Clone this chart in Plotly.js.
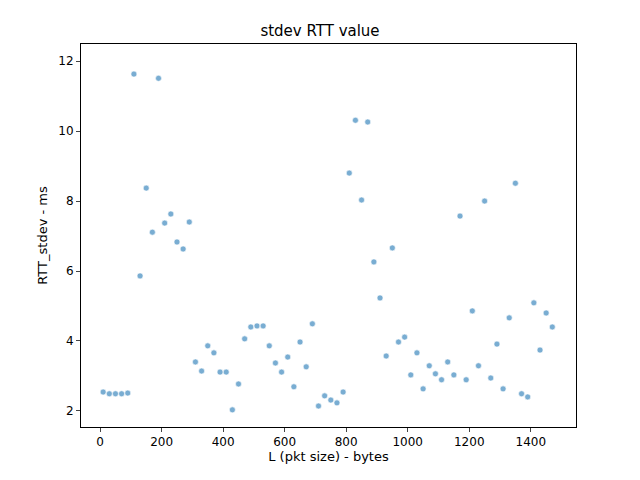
<!DOCTYPE html>
<html>
<head>
<meta charset="utf-8">
<script src="https://cdn.plot.ly/plotly-3.0.1.min.js"></script>
<style>body{margin:0}</style>
</head>
<body>
<div id="plot" style="width:640px;height:480px"></div>
<script>
"use strict"

// packet sizes: 10, 30, ... 1470 bytes
const pktSize = [10,30,50,70,90,110,130,150,170,190,210,230,250,270,290,
  310,330,350,370,390,410,430,450,470,490,510,530,550,570,590,610,630,650,670,690,
  710,730,750,770,790,810,830,850,870,890,910,930,950,970,990,1010,1030,1050,1070,1090,
  1110,1130,1150,1170,1190,1210,1230,1250,1270,1290,1310,1330,1350,1370,1390,1410,1430,1450,1470]

const rttStdev = [2.54,2.49,2.49,2.49,2.51,11.63,5.86,8.37,7.11,11.51,7.37,7.63,6.83,6.63,7.4,
  3.40,3.14,3.86,3.66,3.11,3.11,2.03,2.77,4.06,4.40,4.43,4.43,3.86,3.37,3.11,3.54,2.69,3.97,3.26,4.49,
  2.14,2.43,2.31,2.23,2.54,8.8,10.31,8.03,10.26,6.26,5.23,3.57,6.66,3.97,4.11,3.03,3.66,2.63,3.29,3.06,
  2.89,3.40,3.03,7.57,2.89,4.86,3.29,8.0,2.94,3.91,2.63,4.66,8.51,2.49,2.40,5.09,3.74,4.80,4.40]

const trace = {
  x: pktSize,
  y: rttStdev,
  mode: 'markers',
  type: 'scatter',
  marker: {size: 6, color: 'rgba(31,119,180,0.6)', line: {color: 'white', width: 0.6}},
}

const axis = {
  showgrid: false, zeroline: false, showline: true, mirror: true,
  linecolor: 'black', linewidth: 1, ticks: 'outside', ticklen: 4,
  tickfont: {size: 12, color: 'black'},
}

const layout = {
  width: 640, height: 480,
  font: {family: 'DejaVu Sans', color: 'black'},
  title: {text: 'stdev RTT value', font: {size: 15}, y: 0.935, yanchor: 'middle'},
  margin: {l: 81, r: 64, t: 44, b: 53},
  showlegend: false,
  plot_bgcolor: 'white',
  xaxis: Object.assign({}, axis, {range: [-62, 1547], dtick: 200,
    title: {text: 'L (pkt size) - bytes', font: {size: 13}, standoff: 3}}),
  yaxis: Object.assign({}, axis, {range: [1.54, 12.49], dtick: 2,
    title: {text: 'RTT_stdev - ms', font: {size: 13}, standoff: 7}}),
}

Plotly.newPlot('plot', [trace], layout, {displayModeBar: false, staticPlot: true})
</script>
</body>
</html>
